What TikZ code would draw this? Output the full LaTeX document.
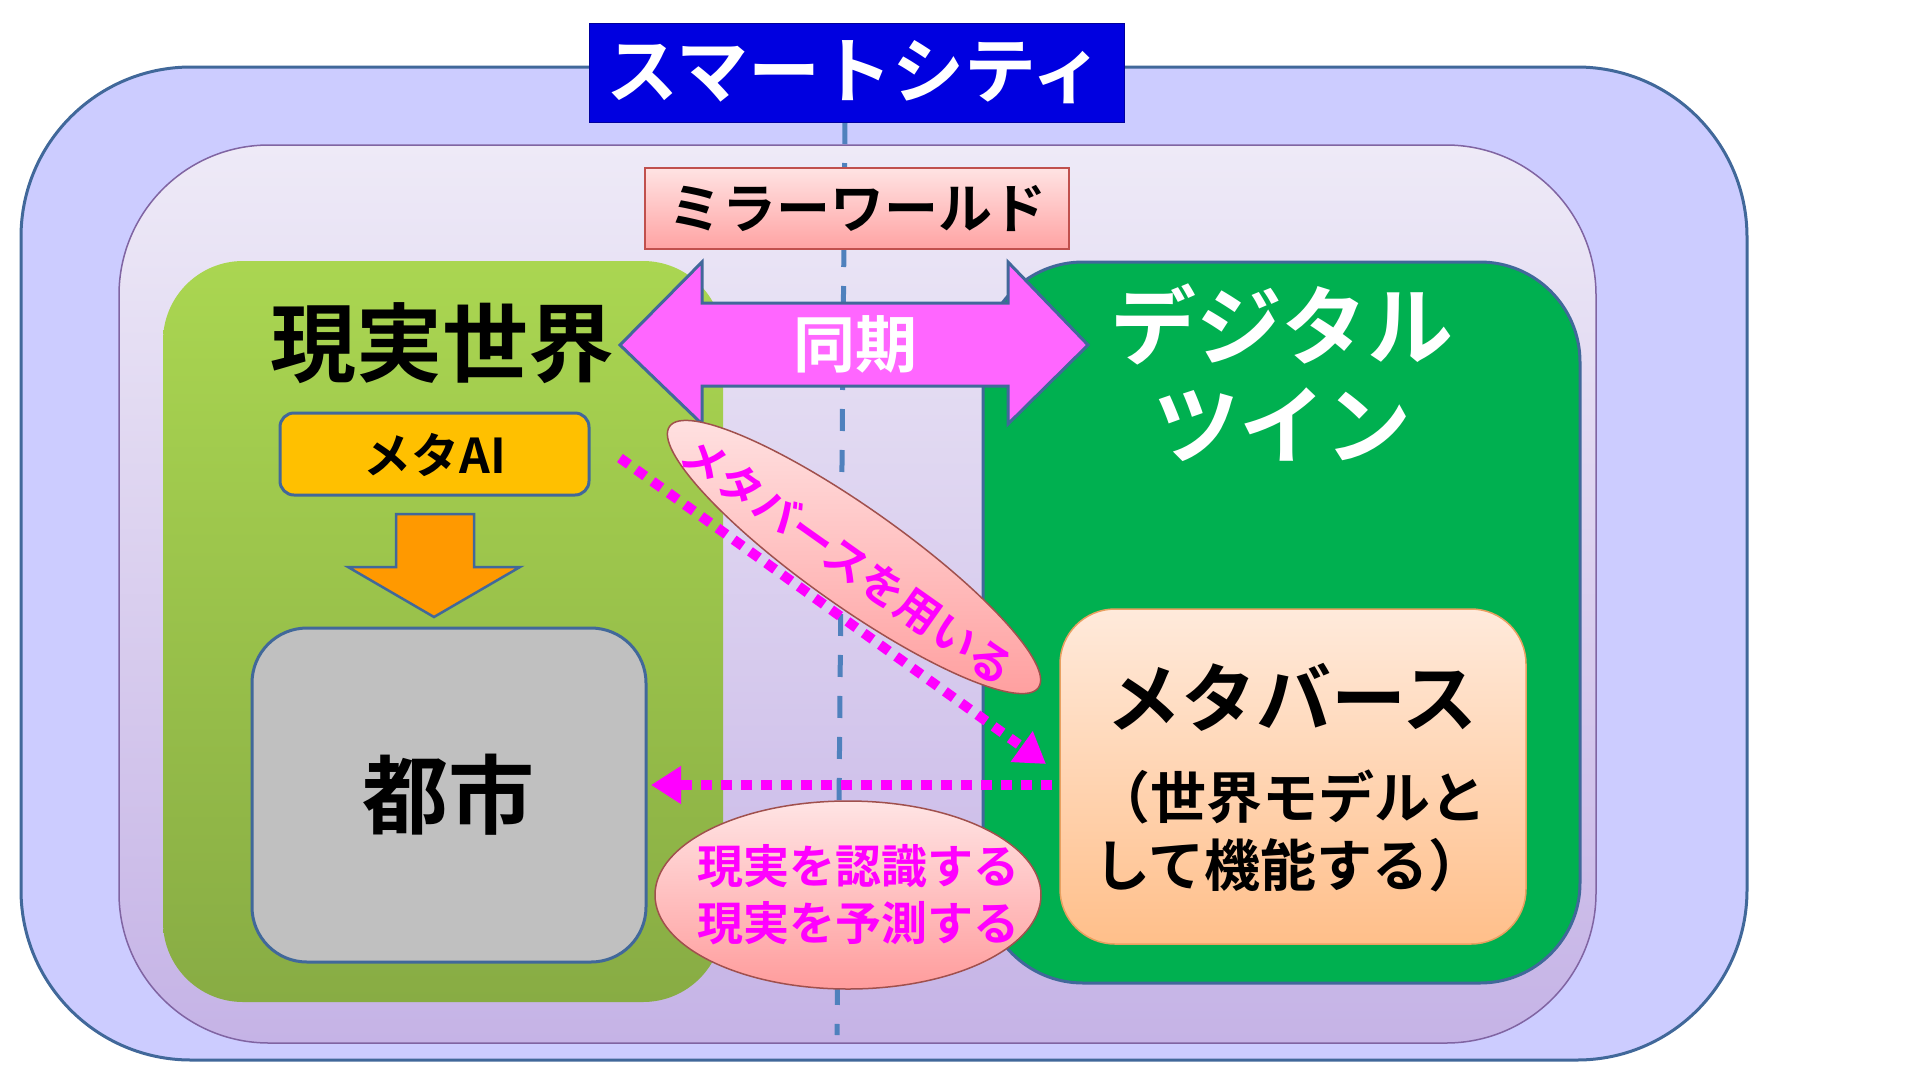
\documentclass[tikz,border=0pt]{standalone}
\usepackage{fontspec}
\newfontfamily\jp{Noto Sans CJK JP}[BoldFont=* Bold]
\usetikzlibrary{shapes.geometric,arrows.meta}
\definecolor{outerfill}{HTML}{CCCCFF}
\definecolor{bordercol}{HTML}{41689A}
\definecolor{innertop}{HTML}{EEEAF7}
\definecolor{innerbot}{HTML}{C5B3E6}
\definecolor{innerdraw}{HTML}{8064A2}
\definecolor{titleblue}{HTML}{0000E0}
\definecolor{mirtop}{HTML}{FFE3E3}
\definecolor{mirbot}{HTML}{FFA3A3}
\definecolor{mirdraw}{HTML}{C0504D}
\definecolor{greenLtop}{HTML}{AAD651}
\definecolor{greenLbot}{HTML}{88AC44}
\definecolor{greenR}{HTML}{00B050}
\definecolor{yellowbox}{HTML}{FFC000}
\definecolor{orangearr}{HTML}{FF9900}
\definecolor{graybox}{HTML}{C0C0C0}
\definecolor{syncpink}{HTML}{FF66FF}
\definecolor{mag}{HTML}{FF00FF}
\definecolor{mvtop}{HTML}{FFEADB}
\definecolor{mvbot}{HTML}{FFBF8A}
\definecolor{mvdraw}{HTML}{E8A060}
\definecolor{elltop}{HTML}{FFE4E4}
\definecolor{ellbot}{HTML}{FF9C9C}
\definecolor{elldraw}{HTML}{A0504D}
\definecolor{dashblue}{HTML}{4F81BD}
\newcommand\myfs[1]{\fontsize{#1pt}{#1pt}\selectfont}
\begin{document}
\begin{tikzpicture}[x=1pt,y=-1pt,
  box/.style={inner sep=0pt, outer sep=0pt},
  txt/.style={inner sep=0pt, outer sep=0pt, text=black},
  dotarrow/.style={draw=mag, line width=10pt, dash pattern=on 11pt off 9pt,
     -{Triangle[length=30pt,width=36pt]}},
  ell/.style={ellipse, draw=elldraw, line width=1.5pt, top color=elltop, bottom color=ellbot, inner sep=0pt, outer sep=0pt}
]
\useasboundingbox (0,0) rectangle (1920,1080);
\fill[white] (0,0) rectangle (1920,1080);
% containers
\node[box, draw=bordercol, line width=3pt, fill=outerfill, rounded corners=170pt,
  minimum width=1726pt, minimum height=993pt] (city0) at (884,563.5) {};
\node[box, draw=innerdraw, line width=1.5pt, top color=innertop, bottom color=innerbot, rounded corners=150pt,
  minimum width=1477pt, minimum height=898pt] (mirrorw) at (857.5,594) {};
% dashed centre line
\coordinate (dtop) at (845,122);
\coordinate (dbot) at (837,1035);
\draw[dashblue, line width=5pt, dash pattern=on 22pt off 19pt] (dtop) -- (dbot);
% title
\node[box, draw=titleblue!70!black, line width=1pt, fill=titleblue,
  minimum width=535pt, minimum height=99pt] (title) at (856.5,72.5) {};
\node[txt, text=white, font=\jp\bfseries\myfs{72}] (titletxt) at (855,72) {スマートシティ};
% mirror world label
\node[box, draw=mirdraw, line width=1.5pt, top color=mirtop, bottom color=mirbot,
  minimum width=424pt, minimum height=81pt] (mirror) at (857,208.5) {};
\node[txt, font=\jp\bfseries\myfs{54}] (mirrortxt) at (857,208) {ミラーワールド};
% real world
\node[box, top color=greenLtop, bottom color=greenLbot, rounded corners=80pt,
  minimum width=560pt, minimum height=741pt] (real) at (443,631.5) {};
\node[txt, font=\jp\bfseries\myfs{86}] (realtxt) at (442,343) {現実世界};
\node[box, draw=bordercol, line width=3pt, fill=yellowbox, rounded corners=14pt,
  minimum width=309pt, minimum height=82pt] (metaai) at (434.5,454) {};
\node[txt, font=\jp\bfseries\myfs{48}] (metaaitxt) at (435,455) {メタAI};
\draw[bordercol, line width=2.5pt, fill=orangearr] (396,514) -- (474,514) -- (474,567) -- (520,567)
  -- (434,617) -- (348,567) -- (396,567) -- cycle;
\node[box, draw=bordercol, line width=3pt, fill=graybox, rounded corners=55pt,
  minimum width=394pt, minimum height=334pt] (citybox) at (449,795) {};
\node[txt, font=\jp\bfseries\myfs{86}] (citytxt) at (448,795) {都市};
% digital twin
\node[box, draw=bordercol, line width=3pt, fill=greenR, rounded corners=100pt,
  minimum width=597pt, minimum height=721pt] (digital) at (1281.5,622.5) {};
\node[txt, text=white, font=\jp\bfseries\myfs{86}] (dig1) at (1282,324) {デジタル};
\node[txt, text=white, font=\jp\bfseries\myfs{86}] (dig2) at (1282,425) {ツイン};
% sync arrow
\draw[bordercol, line width=3pt, fill=syncpink, line join=miter]
  (620,345) -- (702,262) -- (702,303) -- (1008,303) -- (1008,262) -- (1088,345)
  -- (1008,424) -- (1008,386) -- (702,386) -- (702,424) -- cycle;
\node[txt, text=white, font=\jp\bfseries\myfs{62}] (synctxt) at (855,344) {同期};
% metaverse box
\node[box, draw=mvdraw, line width=1.5pt, top color=mvtop, bottom color=mvbot, rounded corners=55pt,
  minimum width=466pt, minimum height=335pt] (mv) at (1293,776.5) {};
\node[txt, font=\jp\bfseries\myfs{75}] (mv1) at (1292,697) {メタバース};
\node[txt, font=\jp\bfseries\myfs{56}, align=left,
  execute at begin node={\baselineskip=68pt}] (mv2) at (1290,831) {（世界モデルと\\して機能する）};
% ellipse 1
\node[ell, rotate=-35.3, minimum width=452pt, minimum height=98pt] (use) at (854,557) {};
\node[txt, text=mag, rotate=-35.3, font=\jp\bfseries\myfs{44}] (usetxt) at (848,561) {メタバースを用いる};
% dotted arrows
\coordinate (a1s) at (620,458);
\coordinate (a1e) at (1046,764);
\draw[dotarrow] (a1s) -- (a1e);
\coordinate (a2s) at (1052,785);
\coordinate (a2e) at (651,785);
\draw[dotarrow] (a2s) -- (a2e);
% ellipse 2
\node[ell, minimum width=386pt, minimum height=188pt] (recog) at (848,895) {};
\node[txt, text=mag, font=\jp\bfseries\myfs{46}, align=center,
  execute at begin node={\baselineskip=57pt}] (recogtxt) at (858,895) {現実を認識する\\現実を予測する};
\end{tikzpicture}
\end{document}
